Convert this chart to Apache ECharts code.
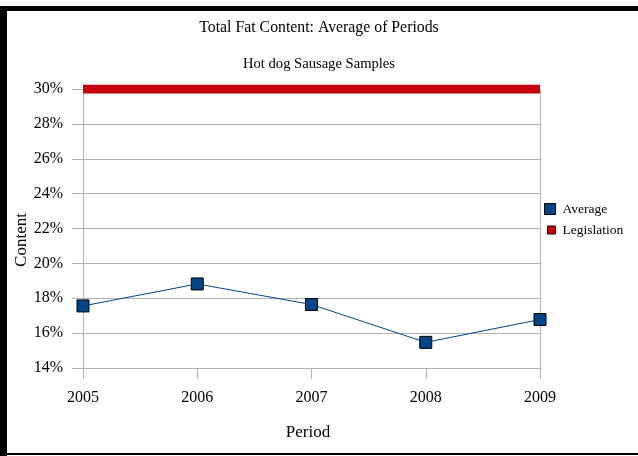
<!DOCTYPE html>
<html>
<head>
<meta charset="utf-8">
<script src="https://cdn.jsdelivr.net/npm/echarts@6/dist/echarts.min.js"></script>
<style>
  html, body { margin: 0; padding: 0; background: #fff; }
  #chart { width: 638px; height: 456px; }
</style>
</head>
<body>
<div id="chart"></div>
<script>
// data
var periods = ["2005", "2006", "2007", "2008", "2009"];
var averageValues = [17.56, 18.82, 17.64, 15.47, 16.78];
var legislationValues = [30, 30, 30, 30, 30];

var serif = "Liberation Serif";
var gridColor = "#b3b3b3";

var chart = echarts.init(document.getElementById("chart"));
chart.setOption({
  backgroundColor: "#fff",
  animation: false,
  textStyle: { fontFamily: serif, color: "#000" },
  title: [
    {
      text: "Total Fat Content: Average of Periods",
      left: "center",
      top: 15,
      textStyle: { fontFamily: serif, fontSize: 15.8, fontWeight: "normal", color: "#000" }
    },
    {
      text: "Hot dog Sausage Samples",
      left: "center",
      top: 52,
      textStyle: { fontFamily: serif, fontSize: 14.6, fontWeight: "normal", color: "#000" }
    }
  ],
  legend: [
    {
      data: [{ name: "Average", icon: "rect" }],
      left: 544,
      top: 202,
      padding: 0,
      itemWidth: 11,
      itemHeight: 11,
      itemStyle: { borderColor: "#000", borderWidth: 1 },
      textStyle: { fontFamily: serif, fontSize: 13.5, color: "#000", padding: [0, 0, 0, 2] }
    },
    {
      data: [{ name: "Legislation", icon: "rect" }],
      left: 547,
      top: 223,
      padding: 0,
      itemWidth: 8,
      itemHeight: 8,
      itemStyle: { borderColor: "#000", borderWidth: 1 },
      textStyle: { fontFamily: serif, fontSize: 13.5, color: "#000", padding: [0, 0, 0, 2] }
    }
  ],
  grid: { left: 83, right: 98, top: 89, bottom: 88, outerBoundsMode: "none" },
  xAxis: {
    type: "category",
    boundaryGap: false,
    data: periods,
    name: "Period",
    nameLocation: "middle",
    nameGap: 56,
    nameMoveOverlap: false,
    nameTextStyle: { fontFamily: serif, fontSize: 17, color: "#000", padding: [0, 7, 0, 0] },
    axisLine: { show: true, lineStyle: { color: gridColor, width: 1 } },
    axisTick: { show: true, length: 11, lineStyle: { color: gridColor } },
    axisLabel: { margin: 22, fontFamily: serif, fontSize: 16, color: "#000" },
    splitLine: {
      show: true,
      interval: function (index) { return index === periods.length - 1; },
      lineStyle: { color: gridColor }
    }
  },
  yAxis: {
    type: "value",
    min: 14,
    max: 30,
    interval: 2,
    name: "Content",
    nameLocation: "middle",
    nameGap: 53,
    nameMoveOverlap: false,
    nameTextStyle: { fontFamily: serif, fontSize: 17, color: "#000", padding: [0, 23, 0, 0] },
    axisLine: { show: true, lineStyle: { color: gridColor, width: 1 } },
    axisTick: { show: true, length: 11, lineStyle: { color: gridColor } },
    axisLabel: { margin: 20, formatter: "{value}%", fontFamily: serif, fontSize: 16, color: "#000" },
    splitLine: { show: true, lineStyle: { color: gridColor } }
  },
  series: [
    {
      name: "Average",
      type: "line",
      data: averageValues,
      symbol: "rect",
      symbolSize: 12,
      color: "#004586",
      lineStyle: { color: "#004586", width: 1 },
      itemStyle: { color: "#004586", borderColor: "#000", borderWidth: 1 },
      z: 3
    },
    {
      name: "Legislation",
      type: "line",
      data: legislationValues,
      symbol: "none",
      color: "#c9000e",
      lineStyle: { color: "#c9000e", width: 9, cap: "butt" },
      itemStyle: { color: "#c9000e" },
      z: 2
    }
  ],
  graphic: [
    { type: "rect", shape: { x: 0, y: 6, width: 638, height: 5 }, style: { fill: "#000" } },
    { type: "rect", shape: { x: 0, y: 6, width: 7, height: 450 }, style: { fill: "#000" } },
    { type: "rect", shape: { x: 0, y: 453, width: 638, height: 2 }, style: { fill: "#000" } }
  ]
});
</script>
</body>
</html>
